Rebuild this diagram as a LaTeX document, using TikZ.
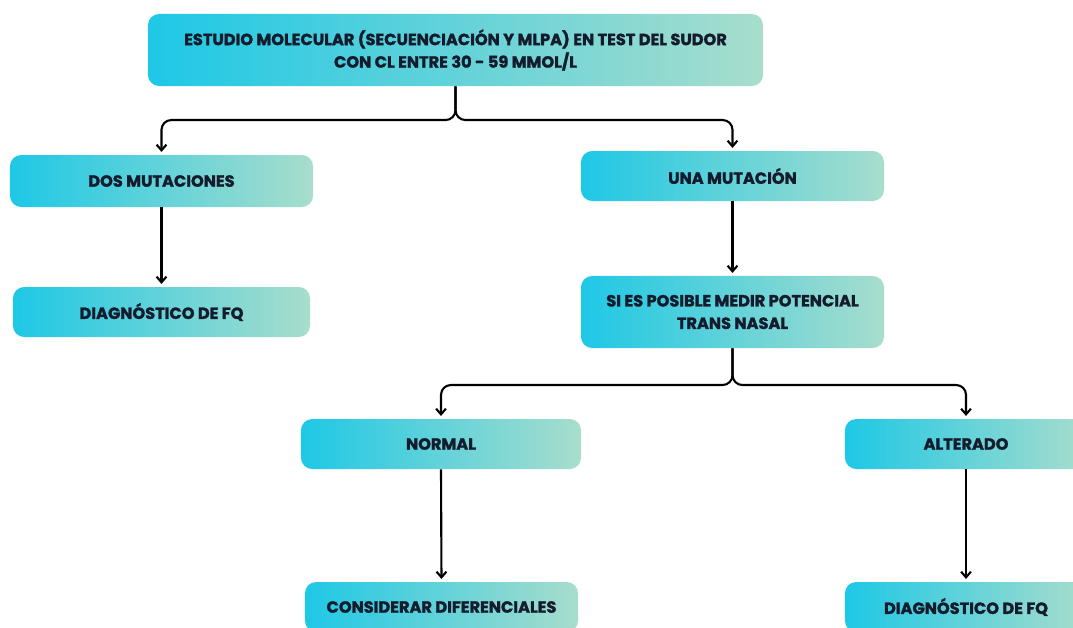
\documentclass[tikz,border=0pt]{standalone}
\usepackage{fontspec}
\setmainfont{Poppins}[BoldFeatures={FakeBold=1.6}]
\usetikzlibrary{arrows.meta}
\definecolor{cian}{HTML}{1EC8E6}
\definecolor{menta}{HTML}{A8DDCC}
\definecolor{texto}{HTML}{141B2D}

\begin{document}
\begin{tikzpicture}[x=0.025cm, y=-0.025cm,
    caja/.style={rounded corners=8pt, left color=cian, right color=menta,
      text=texto, font=\bfseries\fontsize{11.5}{16}\selectfont,
      align=center, inner sep=0pt},
    flecha/.style={line width=1.5pt, -{Straight Barb[length=4pt,width=7pt]},
      rounded corners=7pt, shorten >=2pt}]
  \useasboundingbox (0,0) rectangle (1073,627);
  % Draw top box
  \node[caja, minimum width=15.375cm, minimum height=1.8cm] (estudio) at (455.5,50)
    {ESTUDIO MOLECULAR (SECUENCIACIÓN Y MLPA) EN TEST DEL SUDOR\\CON CL ENTRE 30 - 59 MMOL/L};
  % Draw left branch
  \node[caja, minimum width=7.575cm, minimum height=1.3cm] (dos) at (161.5,181) {DOS MUTACIONES};
  \node[caja, minimum width=7.425cm, minimum height=1.25cm] (diag1) at (161.5,312) {DIAGNÓSTICO DE FQ};
  % Draw right branch
  \node[caja, minimum width=7.575cm, minimum height=1.25cm] (una) at (732.5,176) {UNA MUTACIÓN};
  \node[caja, minimum width=7.575cm, minimum height=1.8cm] (medir) at (732.5,312)
    {SI ES POSIBLE MEDIR POTENCIAL\\TRANS NASAL};
  \node[caja, minimum width=7cm, minimum height=1.25cm] (normal) at (441,444) {NORMAL};
  \node[caja, minimum width=6.05cm, minimum height=1.25cm] (alterado) at (966,444) {ALTERADO};
  \node[caja, minimum width=6.825cm, minimum height=1.25cm] (considerar) at (441.5,607) {CONSIDERAR DIFERENCIALES};
  \node[caja, minimum width=6.05cm, minimum height=1.25cm] (diag2) at (966,607) {DIAGNÓSTICO DE FQ};
  % Draw connectors
  \coordinate (rama1) at (457,120);
  \coordinate (rama2) at (733,385);
  \draw[flecha] (estudio.south) |- (dos.north |- rama1) -- (dos.north);
  \draw[flecha] (estudio.south) |- (una.north |- rama1) -- (una.north);
  \draw[flecha] (dos.south) -- (diag1.north);
  \draw[flecha] (una.south) -- (medir.north);
  \draw[flecha] (medir.south) |- (normal.north |- rama2) -- (normal.north);
  \draw[flecha] (medir.south) |- (alterado.north |- rama2) -- (alterado.north);
  \draw[flecha] (normal.south) -- (considerar.north);
  \draw[flecha] (alterado.south) -- (diag2.north);
\end{tikzpicture}
\end{document}
